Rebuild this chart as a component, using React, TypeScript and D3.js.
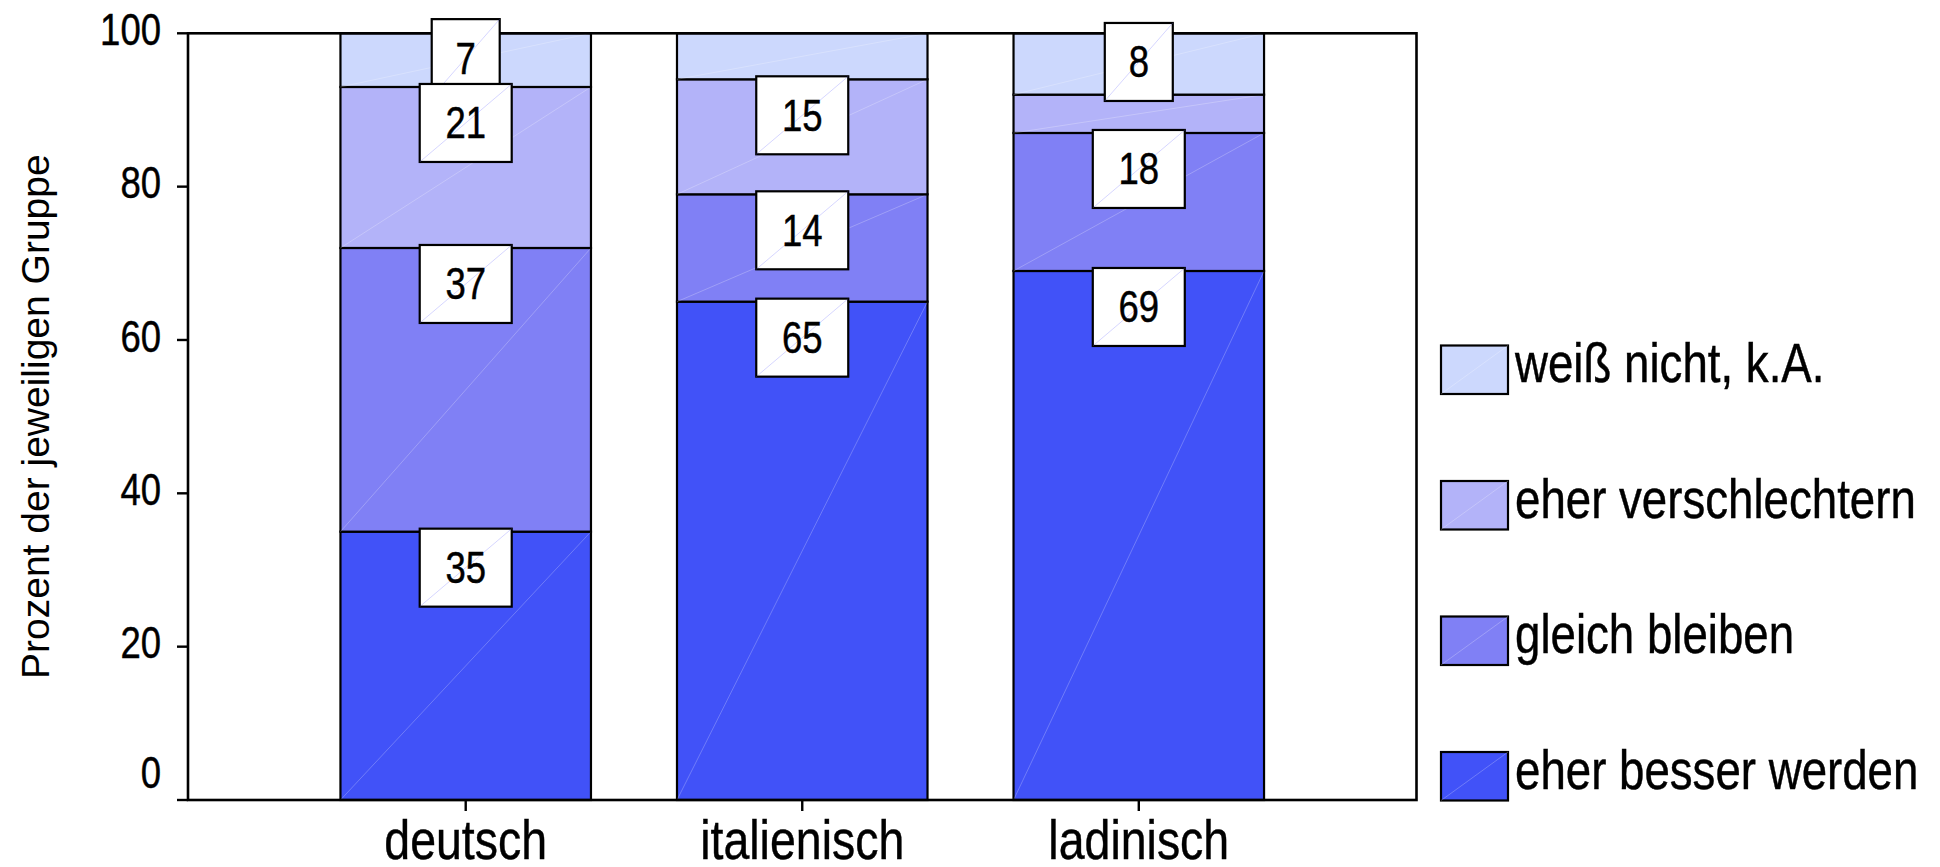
import React from 'react';
import * as d3 from 'd3';

// Gruppen und Anteile (Prozent) je Antwortkategorie
const groups = ['deutsch', 'italienisch', 'ladinisch'];
const seriesNames = ['eher besser werden', 'gleich bleiben', 'eher verschlechtern', 'weiß nicht, k.A.'];
const besser = [35, 65, 69];
const gleich = [37, 14, 18];
const schlechter = [21, 15, 5];
const weissNicht = [7, 6, 8];
const seriesColors = ['#4152f8', '#8080f5', '#b3b3f9', '#ccd8fd'];
const yTicks = [0, 20, 40, 60, 80, 100];
const minLabelValue = 7;

const W = 1940;
const H = 867;
const left = 188;
const right = 1416.5;
const top = 33.3;
const bottom = 800;

const SANS = "'Liberation Sans', Arial, Helvetica, sans-serif";
// horizontal squeeze that turns the regular face into a narrow one
const NARROW_SCALE = 0.83;

type NTProps = {
  x: number;
  y: number;
  size: number;
  anchor?: 'start' | 'middle' | 'end';
  children: React.ReactNode;
};

function NarrowText({ x, y, size, anchor = 'start', children }: NTProps) {
  return (
    <text
      transform={`translate(${x},${y}) scale(${NARROW_SCALE},1)`}
      textAnchor={anchor}
      fontFamily={SANS}
      fontSize={size}
      fill="#000"
      stroke="#000"
      strokeWidth={0.45}
    >
      {children}
    </text>
  );
}

export default function App() {
  const rows = groups.map((g, i) => ({
    group: g,
    [seriesNames[0]]: besser[i],
    [seriesNames[1]]: gleich[i],
    [seriesNames[2]]: schlechter[i],
    [seriesNames[3]]: weissNicht[i],
  }));
  const stacked = d3.stack<any>().keys(seriesNames)(rows);

  const x = d3
    .scaleBand<string>()
    .domain(groups)
    .range([left, right])
    .paddingInner(0.2556)
    .paddingOuter(0.453);
  const y = d3.scaleLinear().domain([0, 100]).range([bottom, top]);
  const color = d3.scaleOrdinal<string, string>().domain(seriesNames).range(seriesColors);

  const bw = x.bandwidth();
  const boxH = 78;

  // Legend rows, top to bottom in reverse stacking order
  const legendItems = [...seriesNames].reverse();
  const legendY = d3.scalePoint<string>().domain(legendItems).range([345.5, 752]);

  return (
    <svg
      width={W}
      height={H}
      viewBox={`0 0 ${W} ${H}`}
      style={{ position: 'absolute', left: 0, top: 0, display: 'block', background: '#fff' }}
    >
      <rect x={0} y={0} width={W} height={H} fill="#fff" />

      {/* stacked segments */}
      {stacked.map((layer) => (
        <g key={layer.key}>
          {layer.map((d, i) => {
            const x0 = x(groups[i])!;
            const y1 = y(d[1]);
            const y0 = y(d[0]);
            return (
              <g key={i}>
                <rect x={x0} y={y1} width={bw} height={y0 - y1} fill={color(layer.key)} stroke="#000" strokeWidth={2.2} />
                <line x1={x0} y1={y0} x2={x0 + bw} y2={y1} stroke="#ffffff" strokeOpacity={0.3} strokeWidth={0.8} />
              </g>
            );
          })}
        </g>
      ))}

      {/* frame */}
      <rect x={left} y={top} width={right - left} height={bottom - top} fill="none" stroke="#000" strokeWidth={2.6} />

      {/* y axis ticks and labels */}
      {yTicks.map((t) => (
        <g key={t}>
          <line x1={left - 11} x2={left} y1={y(t)} y2={y(t)} stroke="#000" strokeWidth={2.4} />
          <NarrowText x={161} y={t === 0 ? y(t) - 12 : y(t) + 11.7} size={44} anchor="end">
            {t}
          </NarrowText>
        </g>
      ))}

      {/* x axis ticks and labels */}
      {groups.map((g) => {
        const cx = x(g)! + bw / 2;
        return (
          <g key={g}>
            <line x1={cx} x2={cx} y1={bottom} y2={bottom + 11} stroke="#000" strokeWidth={2.4} />
            <NarrowText x={cx} y={859} size={56} anchor="middle">
              {g}
            </NarrowText>
          </g>
        );
      })}

      {/* value labels, upper categories first so lower boxes sit on top */}
      {[...stacked].reverse().map((layer) => (
        <g key={'lab-' + layer.key}>
          {layer.map((d, i) => {
            const v = d[1] - d[0];
            if (v < minLabelValue) return null;
            const cx = x(groups[i])! + bw / 2;
            const y1 = y(d[1]);
            const y0 = y(d[0]);
            const segH = y0 - y1;
            const txt = String(v);
            const boxW = txt.length === 1 ? 68 : 92;
            const boxTop = segH >= boxH ? y1 - 3 : (y0 + y1) / 2 - boxH / 2 - 2;
            return (
              <g key={i}>
                <rect x={cx - boxW / 2} y={boxTop} width={boxW} height={boxH} fill="#fff" stroke="#000" strokeWidth={2.2} />
                <line
                  x1={cx - boxW / 2}
                  y1={boxTop + boxH}
                  x2={cx + boxW / 2}
                  y2={boxTop}
                  stroke="#6a6aff"
                  strokeOpacity={0.35}
                  strokeWidth={0.8}
                />
                <NarrowText x={cx} y={boxTop + boxH / 2 + 15.5} size={44} anchor="middle">
                  {txt}
                </NarrowText>
              </g>
            );
          })}
        </g>
      ))}

      {/* y axis title */}
      <text
        transform={`translate(49, ${(top + bottom) / 2}) rotate(-90)`}
        textAnchor="middle"
        fontFamily={SANS}
        fontSize={39}
        fill="#000"
      >
        Prozent der jeweiligen Gruppe
      </text>

      {/* legend */}
      {legendItems.map((name) => {
        const ly = legendY(name)!;
        return (
          <g key={'leg-' + name}>
            <rect x={1441} y={ly} width={67} height={48.5} fill={color(name)} stroke="#000" strokeWidth={2.2} />
            <line x1={1441} y1={ly + 48.5} x2={1508} y2={ly} stroke="#ffffff" strokeOpacity={0.3} strokeWidth={0.8} />
            <NarrowText x={1515} y={ly + 36.5} size={55}>
              {name}
            </NarrowText>
          </g>
        );
      })}
    </svg>
  );
}
